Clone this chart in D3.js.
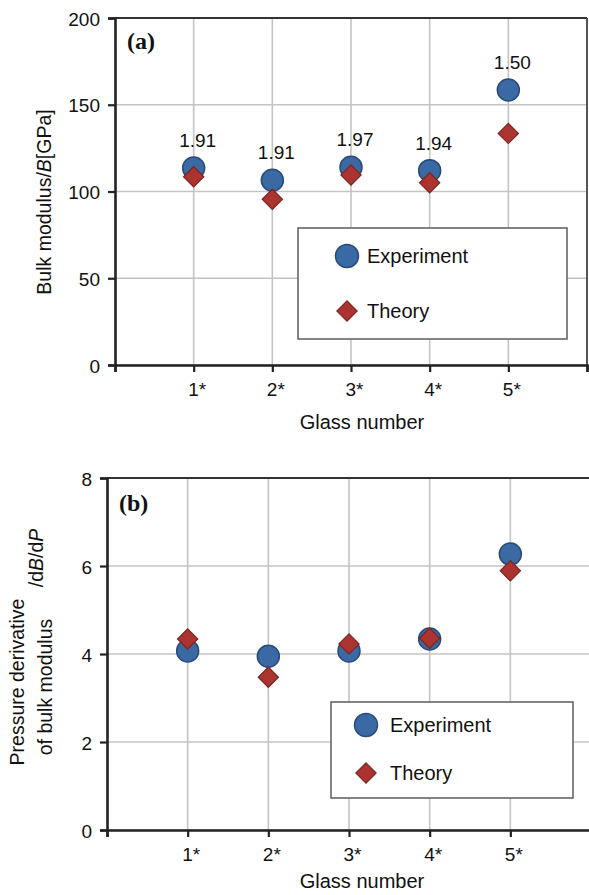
<!DOCTYPE html>
<html>
<head>
<meta charset="utf-8">
<script src="https://cdn.jsdelivr.net/npm/d3@7"></script>
<style>
  body { margin: 0; background: #fff; }
  svg { display: block; font-family: "Liberation Sans", Arial, sans-serif; }
</style>
</head>
<body>
<div id="graph"></div>
<script>
const width = 589;
const height = 895;

// data
const glassLabels = ["1*", "2*", "3*", "4*", "5*"];
const glassIndex = [1, 2, 3, 4, 5];
const bulkExperiment = [113.5, 106.5, 114, 112, 158.5];
const bulkTheory = [108.5, 95.5, 109.5, 105, 133.5];
const bulkRatioLabels = ["1.91", "1.91", "1.97", "1.94", "1.50"];
const bulkTicks = [0, 50, 100, 150, 200];
const derivExperiment = [4.07, 3.95, 4.07, 4.34, 6.27];
const derivTheory = [4.34, 3.47, 4.23, 4.36, 5.89];
const derivTicks = [0, 2, 4, 6, 8];
const legendLabels = ["Experiment", "Theory"];

const blue = "#3a69a3", blueEdge = "#2a4b78";
const red = "#ab3431", redEdge = "#7c2420";

const svg = d3.select("#graph")
  .append("svg")
  .attr("width", width)
  .attr("height", height);

const diamond = d3.symbol().type(d3.symbolSquare).size(205);

function drawPanel(p) {
  const x = d3.scaleLinear().domain([0, 6]).range(p.xRange);
  const y = d3.scaleLinear().domain(p.yDomain).range(p.yRange);
  const g = svg.append("g");

  // grid
  g.selectAll(".hgrid").data(p.ticks).join("line")
    .attr("x1", x(0)).attr("x2", x(6))
    .attr("y1", d => y(d)).attr("y2", d => y(d))
    .attr("stroke", "#c4c4c4").attr("stroke-width", 1.6);
  g.selectAll(".vgrid").data(glassIndex).join("line")
    .attr("x1", d => x(d)).attr("x2", d => x(d))
    .attr("y1", y(p.yDomain[0])).attr("y2", y(p.yDomain[1]))
    .attr("stroke", "#c4c4c4").attr("stroke-width", 1.6);

  // frame top/right
  g.append("line")
    .attr("x1", x(0)).attr("x2", x(6))
    .attr("y1", y(p.yDomain[1])).attr("y2", y(p.yDomain[1]))
    .attr("stroke", "#333").attr("stroke-width", 2.2);
  g.append("line")
    .attr("x1", x(6)).attr("x2", x(6))
    .attr("y1", y(p.yDomain[1])).attr("y2", y(p.yDomain[0]))
    .attr("stroke", "#555").attr("stroke-width", 2);

  // legend box (covers the grid)
  const lg = g.append("g");
  lg.append("rect")
    .attr("x", p.legend.x).attr("y", p.legend.y)
    .attr("width", p.legend.w).attr("height", p.legend.h)
    .attr("fill", "#fff").attr("stroke", "#666").attr("stroke-width", 1.6);
  lg.append("circle")
    .attr("cx", p.legend.mx).attr("cy", p.legend.y1).attr("r", 11.5)
    .attr("fill", blue).attr("stroke", blueEdge).attr("stroke-width", 1.5);
  lg.append("path")
    .attr("d", diamond)
    .attr("transform", `translate(${p.legend.mx},${p.legend.y2}) rotate(45)`)
    .attr("fill", red).attr("stroke", redEdge).attr("stroke-width", 1.2);
  lg.selectAll("text").data(legendLabels).join("text")
    .attr("x", p.legend.tx)
    .attr("y", (d, i) => (i === 0 ? p.legend.y1 : p.legend.y2) + 7)
    .attr("font-size", 20)
    .attr("fill", "#111")
    .text(d => d);

  // axes
  const xAxis = g.append("g")
    .attr("transform", `translate(0,${y(p.yDomain[0])})`)
    .call(d3.axisBottom(x)
      .tickValues([0, 1, 2, 3, 4, 5, 6])
      .tickSize(7).tickPadding(10.5)
      .tickFormat(d => (d >= 1 && d <= 5) ? glassLabels[d - 1] : ""));
  const yAxis = g.append("g")
    .attr("transform", `translate(${x(0)},0)`)
    .call(d3.axisLeft(y).tickValues(p.ticks).tickSize(7).tickPadding(8));

  [xAxis, yAxis].forEach(a => {
    a.select(".domain").attr("stroke", "#222").attr("stroke-width", 2.6);
    a.selectAll(".tick line").attr("stroke", "#222").attr("stroke-width", 2.2);
    a.selectAll(".tick text")
      .attr("font-size", 19)
      .attr("font-family", "Liberation Sans, Arial, sans-serif")
      .attr("fill", "#111");
  });
  xAxis.selectAll(".tick text").attr("dx", 3);
  yAxis.selectAll(".tick text").attr("dy", "0.38em");

  // x label
  g.append("text")
    .attr("x", p.xLabelX).attr("y", p.xLabelY)
    .attr("text-anchor", "middle")
    .attr("font-size", 20).attr("fill", "#111")
    .text("Glass number");

  // panel tag
  g.append("text")
    .attr("x", x(0) + 12).attr("y", p.tagY)
    .attr("font-family", "Liberation Serif, Times New Roman, serif")
    .attr("font-weight", "bold").attr("font-size", 24).attr("fill", "#111")
    .text(p.tag);

  // markers
  g.selectAll(".exp").data(p.experiment).join("circle")
    .attr("cx", (d, i) => x(glassIndex[i]))
    .attr("cy", d => y(d))
    .attr("r", 11)
    .attr("fill", blue).attr("stroke", blueEdge).attr("stroke-width", 1.5);
  g.selectAll(".theo").data(p.theory).join("path")
    .attr("d", diamond)
    .attr("transform", (d, i) => `translate(${x(glassIndex[i])},${y(d)}) rotate(45)`)
    .attr("fill", red).attr("stroke", redEdge).attr("stroke-width", 1.2);

  if (p.labels) {
    g.selectAll(".lab").data(p.labels).join("text")
      .attr("x", (d, i) => x(glassIndex[i]) + 4)
      .attr("y", (d, i) => y(p.experiment[i]) - 21)
      .attr("text-anchor", "middle")
      .attr("font-size", 19).attr("fill", "#111")
      .text(d => d);
  }
  return g;
}

// (a) bulk modulus
const ga = drawPanel({
  xRange: [115, 587], yDomain: [0, 200], yRange: [365, 18],
  ticks: bulkTicks, experiment: bulkExperiment, theory: bulkTheory,
  labels: bulkRatioLabels,
  legend: {x: 298, y: 228, w: 269, h: 111, mx: 347, y1: 256, y2: 311, tx: 367},
  xLabelX: 362, xLabelY: 429, tag: "(a)", tagY: 49
});

const la = ga.append("text")
  .attr("transform", "translate(51,202) rotate(-90)")
  .attr("text-anchor", "middle")
  .attr("font-size", 19.5).attr("fill", "#111");
la.append("tspan").text("Bulk modulus/");
la.append("tspan").attr("font-style", "italic").text("B");
la.append("tspan").text("[GPa]");

// (b) pressure derivative
const gb = drawPanel({
  xRange: [107, 591], yDomain: [0, 8], yRange: [830, 478],
  ticks: derivTicks, experiment: derivExperiment, theory: derivTheory,
  labels: null,
  legend: {x: 331, y: 702, w: 242, h: 96, mx: 366, y1: 725, y2: 773, tx: 390},
  xLabelX: 362, xLabelY: 888, tag: "(b)", tagY: 511
});

gb.append("text")
  .attr("transform", "translate(24,682) rotate(-90)")
  .attr("text-anchor", "middle")
  .attr("font-size", 19.5).attr("fill", "#111")
  .text("Pressure derivative");
gb.append("text")
  .attr("transform", "translate(52,687) rotate(-90)")
  .attr("text-anchor", "middle")
  .attr("font-size", 19.5).attr("fill", "#111")
  .text("of bulk modulus");
const lb = gb.append("text")
  .attr("transform", "translate(43,558) rotate(-90)")
  .attr("text-anchor", "middle")
  .attr("font-size", 19.5).attr("fill", "#111");
lb.append("tspan").text("/d");
lb.append("tspan").attr("font-style", "italic").text("B");
lb.append("tspan").text("/d");
lb.append("tspan").attr("font-style", "italic").text("P");
</script>
</body>
</html>
